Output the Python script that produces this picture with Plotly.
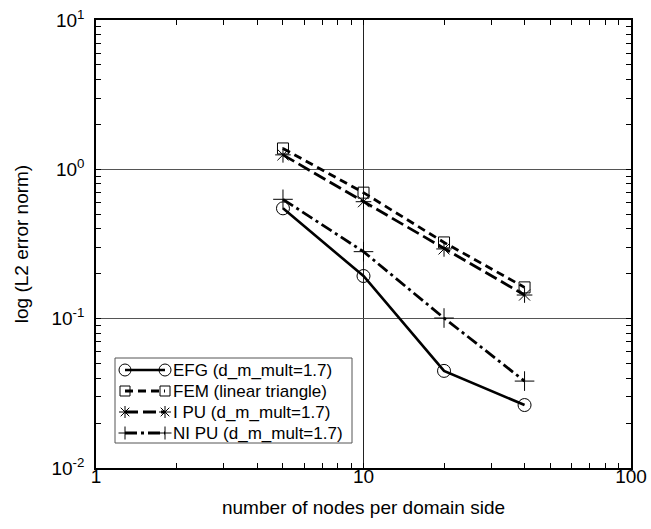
import plotly.graph_objects as go

# ---- data ----
nodes = [5, 10, 20, 40]
efg = [0.548, 0.193, 0.0447, 0.0264]
fem = [1.38, 0.698, 0.324, 0.162]
ipu = [1.25, 0.607, 0.293, 0.144]
nipu = [0.630, 0.281, 0.101, 0.0382]

series_names = ["EFG (d_m_mult=1.7)", "FEM (linear triangle)",
                "I PU (d_m_mult=1.7)", "NI PU (d_m_mult=1.7)"]
x_major = [1, 10, 100]
x_major_text = ["1", "10", "100"]
y_major = [0.01, 0.1, 1, 10]
y_major_text = ["10<sup>-2</sup>", "10<sup>-1</sup>", "10<sup>0</sup>", "10<sup>1</sup>"]

# ---- styles ----
styles = [
    dict(dash="solid", symbol="circle-open", size=13, width=2.6),
    dict(dash="8px,5px", symbol="square-open", size=11, width=2.8),
    dict(dash="13px,5px", symbol="asterisk-open", size=13, width=2.8),
    dict(dash="12px,4px,3px,4px", symbol="cross-thin-open", size=14, width=2.8),
]
values = [efg, fem, ipu, nipu]
FONT = "Liberation Sans, Arial, Helvetica, sans-serif"

fig = go.Figure()
for name, vals, st in zip(series_names, values, styles):
    fig.add_trace(go.Scatter(
        x=nodes, y=vals, name=name, mode="lines+markers",
        line=dict(color="black", width=st["width"], dash=st["dash"]),
        marker=dict(symbol=st["symbol"], size=st["size"], color="black",
                    line=dict(color="black", width=1)),
        showlegend=False,
    ))

# minor tick values
x_minor = [d * 10 ** e for e in range(0, 2) for d in range(2, 10)]
y_minor = [d * 10.0 ** e for e in range(-2, 1) for d in range(2, 10)]

W, H = 651, 529
L, R, T, B = 96, 20, 20, 61
pw, ph = W - L - R, H - T - B


def px_x(px):
    return (px - L) / pw


def px_y(py):
    return (H - B - py) / ph


fig.update_layout(
    width=W, height=H,
    margin=dict(l=L, r=R, t=T, b=B, autoexpand=False),
    paper_bgcolor="white", plot_bgcolor="white",
    font=dict(family=FONT, size=19, color="black"),
    xaxis=dict(
        type="log", range=[0, 2],
        tickmode="array", tickvals=x_major, ticktext=x_major_text,
        ticks="inside", ticklen=5, tickwidth=1, tickcolor="black",
        mirror="allticks", showline=True, linecolor="black", linewidth=1.5,
        showgrid=True, gridcolor="#222", gridwidth=1,
        minor=dict(tickmode="array", tickvals=x_minor, ticks="inside", ticklen=5,
                   tickcolor="black", showgrid=False),
        zeroline=False,
        title=dict(text="number of nodes per domain side", standoff=15,
                   font=dict(size=19)),
        automargin=False,
        ticklabelstandoff=-10,
        ticklabeloverflow="allow",
    ),
    yaxis=dict(
        type="log", range=[-2, 1],
        tickmode="array", tickvals=y_major, ticktext=y_major_text,
        ticks="inside", ticklen=5, tickwidth=1, tickcolor="black",
        mirror="allticks", showline=True, linecolor="black", linewidth=1.5,
        showgrid=True, gridcolor="#555", gridwidth=1,
        minor=dict(tickmode="array", tickvals=y_minor, ticks="inside", ticklen=5,
                   tickcolor="black", showgrid=False),
        zeroline=False,
        title=dict(text="log (L2 error norm)", standoff=18, font=dict(size=19)),
        automargin=False,
        ticklabelstandoff=6,
        ticklabeloverflow="allow",
    ),
)

# ---- manual legend (box, line samples with end markers, labels) ----
shapes = []
annotations = []
box = dict(x0=115, x1=352, y0=358, y1=443)
shapes.append(dict(type="rect", xref="paper", yref="paper",
                   x0=px_x(box["x0"]), x1=px_x(box["x1"]),
                   y0=px_y(box["y1"]), y1=px_y(box["y0"]),
                   line=dict(color="#555", width=1), fillcolor="white", layer="above"))
rows = [370, 391, 412, 433]
xa, xb, xt = 125, 165, 171


def marker_shape(kind, cx, cy, s):
    base = dict(xref="paper", yref="paper", xsizemode="pixel", ysizemode="pixel",
                xanchor=px_x(cx), yanchor=px_y(cy),
                line=dict(color="black", width=1), layer="above")
    h = s / 2
    if kind == "circle-open":
        return dict(type="circle", x0=-h, x1=h, y0=-h, y1=h, **base)
    if kind == "square-open":
        return dict(type="rect", x0=-h, x1=h, y0=-h, y1=h, **base)
    if kind == "asterisk-open":
        d = h * 0.72
        p = (f"M{-h},0L{h},0M0,{-h}L0,{h}"
             f"M{-d},{-d}L{d},{d}M{-d},{d}L{d},{-d}")
        return dict(type="path", path=p, **base)
    p = f"M{-h},0L{h},0M0,{-h}L0,{h}"
    return dict(type="path", path=p, **base)


for name, st, ry in zip(series_names, styles, rows):
    shapes.append(dict(type="line", xref="paper", yref="paper",
                       x0=px_x(xa), x1=px_x(xb), y0=px_y(ry), y1=px_y(ry),
                       line=dict(color="black", width=st["width"], dash=st["dash"]),
                       layer="above"))
    sz = {"circle-open": 12, "square-open": 10, "asterisk-open": 12, "cross-thin-open": 13}[st["symbol"]]
    shapes.append(marker_shape(st["symbol"], xa, ry, sz))
    shapes.append(marker_shape(st["symbol"], xb, ry, sz))
    annotations.append(dict(text=name, xref="paper", yref="paper",
                            x=px_x(xt), y=px_y(ry), xanchor="left", yanchor="middle",
                            showarrow=False, font=dict(size=17, family=FONT, color="black")))

fig.update_layout(shapes=shapes, annotations=annotations)
fig.write_html(
    "out.html",
    config={"displayModeBar": False},
    post_script="document.body.style.margin='0';document.body.style.overflow='hidden';",
)
